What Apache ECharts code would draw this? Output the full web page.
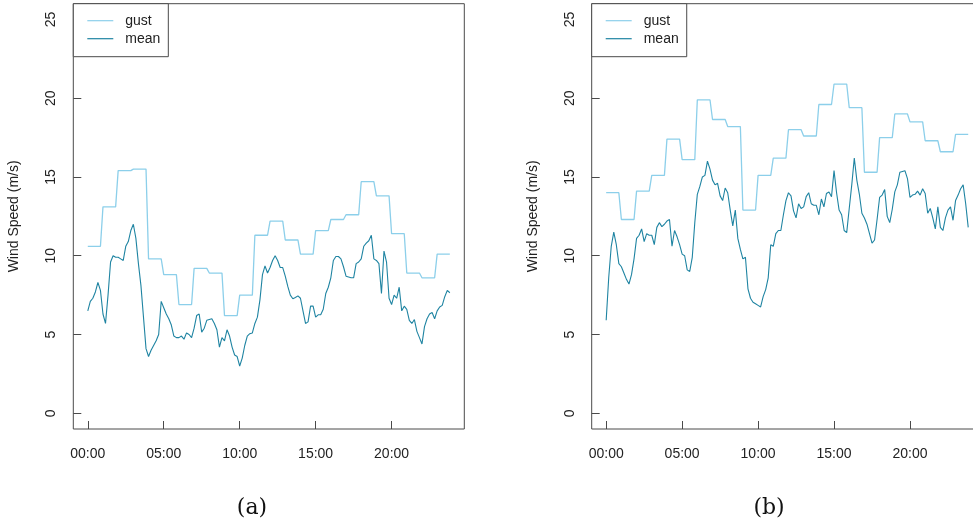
<!DOCTYPE html>
<html>
<head>
<meta charset="utf-8">
<script src="https://cdn.jsdelivr.net/npm/echarts@6/dist/echarts.min.js"></script>
<style>html,body{margin:0;padding:0;background:#fff}#c{width:973px;height:525px}</style>
</head>
<body>
<div id="c"></div>
<script>
// ---- data (10-minute samples, 00:00 .. 23:50) ----
const hourTicks = [0, 5, 10, 15, 20];
const speedTicks = [0, 5, 10, 15, 20, 25];
const seriesNames = ['gust', 'mean'];
const panelLabels = ['(a)', '(b)'];

// hourly gust maxima
const gustA = [10.6, 13.1, 15.4, 15.5, 9.8, 8.8, 6.9, 9.2, 8.9, 6.2, 7.5, 11.3,
               12.2, 11.0, 10.1, 11.6, 12.3, 12.6, 14.7, 13.8, 11.4, 8.9, 8.6, 10.1];
const gustB = [14.0, 12.3, 14.1, 15.1, 17.4, 16.1, 19.9, 18.65, 18.2, 12.9, 15.1, 16.2,
               18.0, 17.6, 19.6, 20.9, 19.4, 15.3, 17.5, 19.0, 18.5, 17.3, 16.6, 17.7];

// 10-minute mean wind speed
const meanA = [6.5,7.1,7.3,7.7,8.3,7.8,6.3,5.7,7.5,9.6,
  10.0,9.9,9.9,9.8,9.7,10.6,10.9,11.6,12.0,11.1,
  9.5,8.1,6.1,4.1,3.6,4.0,4.3,4.6,5.0,7.1,
  6.7,6.3,6.0,5.6,4.9,4.8,4.8,4.9,4.7,5.1,
  5.0,4.8,5.4,6.2,6.3,5.15,5.4,5.9,5.95,6.0,
  5.7,5.3,4.2,4.8,4.6,5.3,4.9,4.2,3.7,3.6,
  3.0,3.5,4.3,4.9,5.05,5.1,5.7,6.1,7.2,8.8,
  9.35,8.9,9.25,9.7,10.0,9.7,9.25,9.25,8.7,8.05,
  7.5,7.27,7.35,7.45,7.3,6.5,5.7,5.8,6.8,6.8,
  6.1,6.25,6.25,6.6,7.6,8.0,8.6,9.7,9.95,9.95,
  9.8,9.3,8.7,8.65,8.6,8.6,9.5,9.6,9.8,10.6,
  10.8,10.95,11.3,9.8,9.7,9.5,7.6,10.3,9.6,7.3,
  6.9,7.5,7.3,8.0,6.5,6.8,6.6,5.9,5.7,5.95,
  5.2,4.8,4.4,5.5,6.0,6.3,6.4,6.0,6.5,6.75,
  6.85,7.4,7.8,7.65];
const meanB = [5.9,8.6,10.6,11.5,10.7,9.5,9.3,8.9,8.5,8.2,
  8.8,9.8,11.1,11.3,11.7,10.9,11.4,11.3,11.3,10.7,
  11.8,12.1,11.85,12.0,12.2,12.3,10.6,11.6,11.2,10.7,
  10.1,10.0,9.1,9.0,9.9,12.1,13.9,14.4,15.0,15.1,
  16.0,15.5,14.8,14.5,14.6,13.8,13.5,14.3,14.0,12.9,
  11.9,12.9,11.1,10.4,9.8,9.9,7.9,7.3,7.05,6.95,
  6.85,6.75,7.4,7.85,8.6,10.7,10.6,11.4,11.6,11.6,
  12.6,13.5,14.0,13.8,12.85,12.4,13.3,13.0,13.1,13.75,
  14.0,13.3,13.2,13.2,12.6,13.6,13.1,13.95,14.05,13.75,
  15.4,14.0,12.9,12.6,11.6,11.47,13.0,14.5,16.2,14.8,
  13.9,12.7,12.4,12.0,11.4,10.8,11.0,12.3,13.7,13.85,
  14.2,12.5,12.1,12.95,14.05,14.5,15.3,15.35,15.4,14.9,
  13.7,13.85,13.9,14.1,13.85,14.25,13.95,12.7,13.0,12.4,
  11.7,13.1,11.8,11.6,12.4,12.9,13.1,12.25,13.5,13.85,
  14.25,14.5,13.3,11.8];

// ---- build ----
const STEP = 1 / 6; // 10 minutes in hours
function meanPoints(arr) { return arr.map((v, k) => [k * STEP, v]); }
function gustPoints(arr) {
  const out = [];
  arr.forEach((v, h) => { out.push([h, v]); out.push([h + 5 * STEP, v]); });
  return out;
}
const lastHour = (meanA.length - 1) * STEP;
const xPad = lastHour * 0.04;
const yPad = 25 * 0.04;

const GUST_COLOR = '#8ccfea';
const MEAN_COLOR = '#1f84a2';
const FRAME = '#4a4a4a';
const TXT = '#222';
const FONT = 'Liberation Sans, Arial, sans-serif';

const gridLefts = [73.3, 591.7];
const capX = [252, 769];

const grids = [], xAxes = [], yAxes = [], series = [], legends = [], graphics = [];
[[gustA, meanA], [gustB, meanB]].forEach((d, i) => {
  grids.push({ left: gridLefts[i], top: 3.7, width: 391, height: 425.3, show: true,
    borderColor: FRAME, borderWidth: 1, backgroundColor: 'transparent', containLabel: false, outerBoundsMode: 'none' });
  xAxes.push({ type: 'value', gridIndex: i, min: -xPad, max: lastHour + xPad,
    axisLine: { show: false, onZero: false }, splitLine: { show: false },
    axisTick: { show: true, inside: true, length: 8, customValues: hourTicks, lineStyle: { color: FRAME } },
    axisLabel: { show: true, customValues: hourTicks, margin: 18, color: TXT, fontSize: 14, fontFamily: FONT,
      formatter: v => String(Math.round(v)).padStart(2, '0') + ':00' } });
  yAxes.push({ type: 'value', gridIndex: i, min: -yPad, max: 25 + yPad,
    name: 'Wind Speed (m/s)', nameLocation: 'middle', nameRotate: 90, nameGap: 52,
    nameTextStyle: { color: TXT, fontSize: 14, fontFamily: FONT },
    axisLine: { show: false, onZero: false }, splitLine: { show: false },
    axisTick: { show: true, inside: true, length: 8, customValues: speedTicks, lineStyle: { color: FRAME } },
    axisLabel: { show: true, customValues: speedTicks, rotate: 90, margin: 15, color: TXT, fontSize: 14, fontFamily: FONT } });
  series.push({ name: seriesNames[0], type: 'line', xAxisIndex: i, yAxisIndex: i, data: gustPoints(d[0]),
    symbol: 'none', lineStyle: { color: GUST_COLOR, width: 1.3 }, itemStyle: { color: GUST_COLOR }, z: 2, animation: false });
  series.push({ name: seriesNames[1], type: 'line', xAxisIndex: i, yAxisIndex: i, data: meanPoints(d[1]),
    symbol: 'none', lineStyle: { color: MEAN_COLOR, width: 1.1 }, itemStyle: { color: MEAN_COLOR }, z: 3, animation: false });
  legends.push({ orient: 'vertical', left: gridLefts[i], top: 3.7, data: seriesNames,
    backgroundColor: '#fff', borderColor: FRAME, borderWidth: 1, borderRadius: 0,
    padding: [10, 8, 11, 14], itemWidth: 26, itemHeight: 14, itemGap: 4, selectedMode: false, z: 10,
    icon: 'path://M0,6.5L26,6.5L26,7.7L0,7.7Z',
    textStyle: { color: TXT, fontSize: 14, fontFamily: FONT, padding: [0, 0, 0, 7] } });
  graphics.push({ type: 'text', x: capX[i], y: 508,
    style: { text: panelLabels[i], fill: '#111', font: '22px "DejaVu Serif", serif', textAlign: 'center', textVerticalAlign: 'middle' } });
});

const chart = echarts.init(document.getElementById('c'), null, { renderer: 'canvas' });
chart.setOption({
  animation: false,
  backgroundColor: '#fff',
  grid: grids, xAxis: xAxes, yAxis: yAxes, series: series, legend: legends,
  graphic: graphics
});
</script>
</body>
</html>
